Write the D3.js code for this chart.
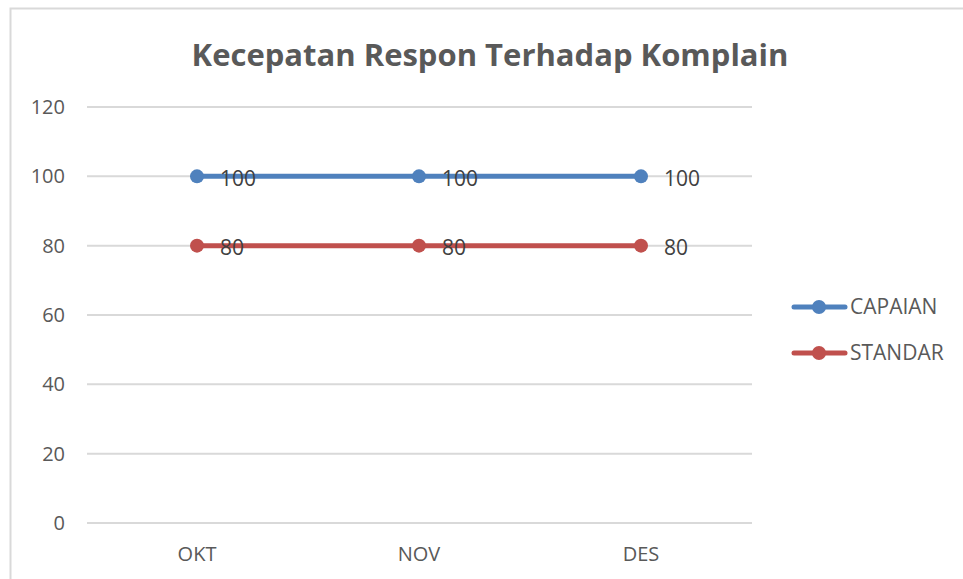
<!DOCTYPE html>
<meta charset="utf-8">
<body style="margin:0;background:#fff">
<script src="https://d3js.org/d3.v7.min.js"></script>
<div id="chart"></div>
<script>
  var categories = ["OKT", "NOV", "DES"];
  var capaian = [100, 100, 100];
  var standar = [80, 80, 80];
  var yTicks = [0, 20, 40, 60, 80, 100, 120];

  var series = [
    { name: "CAPAIAN", values: capaian, color: "#4F81BD" },
    { name: "STANDAR", values: standar, color: "#C0504D" }
  ];

  var width = 963, height = 579;
  var font = "'Open Sans', 'Liberation Sans', sans-serif";

  var svg = d3.select("#chart")
    .append("svg")
    .attr("width", width)
    .attr("height", height)
    .style("font-family", font);

  // chart border (right and bottom edges fall outside the picture)
  svg.append("rect")
    .attr("x", 10.5).attr("y", 8.5)
    .attr("width", 1000).attr("height", 620)
    .attr("fill", "none")
    .attr("stroke", "#d9d9d9")
    .attr("stroke-width", 2);

  svg.append("text")
    .attr("x", 490).attr("y", 66)
    .attr("text-anchor", "middle")
    .attr("font-size", 31)
    .attr("font-weight", "bold")
    .attr("fill", "#595959")
    .text("Kecepatan Respon Terhadap Komplain");

  var x = d3.scaleBand()
    .domain(categories)
    .range([86, 752]);

  var y = d3.scaleLinear()
    .domain([0, 120])
    .range([523, 107]);

  // gridlines
  svg.append("g")
    .selectAll("line")
    .data(yTicks)
    .join("line")
    .attr("x1", 87).attr("x2", 752)
    .attr("y1", d => y(d)).attr("y2", d => y(d))
    .attr("stroke", "#d9d9d9")
    .attr("stroke-width", 2);

  // y labels
  svg.append("g")
    .selectAll("text")
    .data(yTicks)
    .join("text")
    .attr("x", 65)
    .attr("y", d => y(d))
    .attr("dy", "0.35em")
    .attr("text-anchor", "end")
    .attr("font-size", 20)
    .attr("fill", "#595959")
    .text(d => d);

  // x labels
  svg.append("g")
    .selectAll("text")
    .data(categories)
    .join("text")
    .attr("x", d => x(d) + x.bandwidth() / 2)
    .attr("y", 561)
    .attr("text-anchor", "middle")
    .attr("font-size", 20)
    .attr("fill", "#595959")
    .text(d => d);

  var cx = d => x(d) + x.bandwidth() / 2;
  var line = d3.line()
    .x(d => cx(d.cat))
    .y(d => y(d.v));

  series.forEach(function (s) {
    var pts = categories.map((c, i) => ({ cat: c, v: s.values[i] }));
    var g = svg.append("g");
    g.append("path")
      .datum(pts)
      .attr("d", line)
      .attr("fill", "none")
      .attr("stroke", s.color)
      .attr("stroke-width", 5)
      .attr("stroke-linecap", "round");
    g.selectAll("circle")
      .data(pts)
      .join("circle")
      .attr("cx", d => cx(d.cat))
      .attr("cy", d => y(d.v))
      .attr("r", 7)
      .attr("fill", s.color);
    g.selectAll("text")
      .data(pts)
      .join("text")
      .attr("x", d => cx(d.cat) + 23)
      .attr("y", d => y(d.v) + 2)
      .attr("dy", "0.35em")
      .attr("font-size", 21)
      .attr("fill", "#404040")
      .text(d => d.v);
  });

  // legend
  var legend = svg.append("g")
    .selectAll("g")
    .data(series)
    .join("g")
    .attr("transform", (d, i) => `translate(0, ${307 + i * 46})`);
  legend.append("line")
    .attr("x1", 794).attr("x2", 845)
    .attr("stroke", d => d.color)
    .attr("stroke-width", 5)
    .attr("stroke-linecap", "round");
  legend.append("circle")
    .attr("cx", 819).attr("r", 7)
    .attr("fill", d => d.color);
  legend.append("text")
    .attr("x", 850)
    .attr("dy", "0.35em")
    .attr("font-size", 21)
    .attr("fill", "#595959")
    .text(d => d.name);
</script>
</body>
